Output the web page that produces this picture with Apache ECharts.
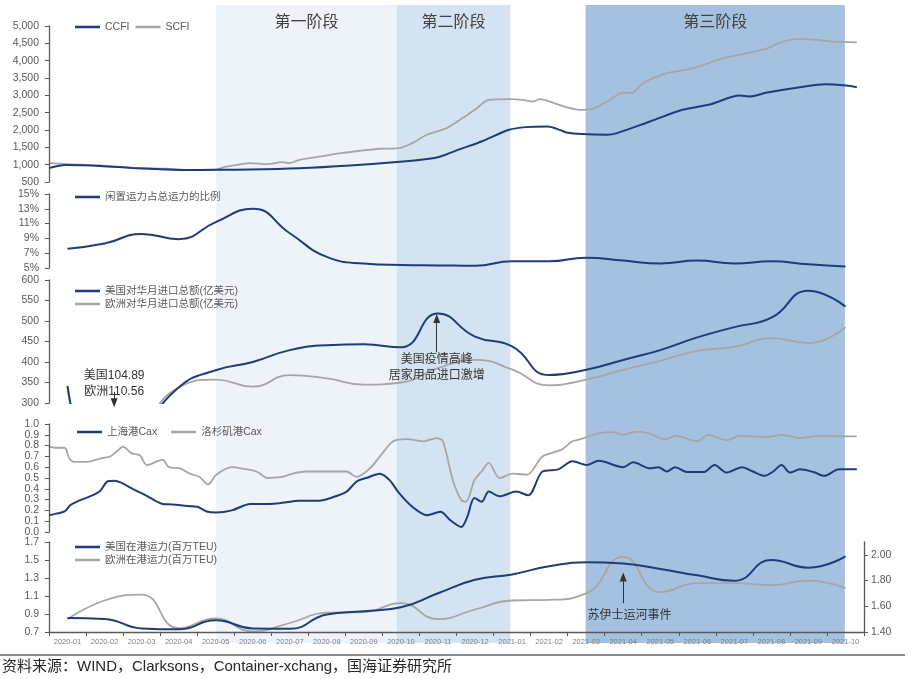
<!DOCTYPE html>
<html><head><meta charset="utf-8">
<script src="https://cdn.jsdelivr.net/npm/echarts@6/dist/echarts.min.js"></script>
<style>html,body{margin:0;padding:0;background:#fff}#c{width:910px;height:679px}</style>
</head><body><div id="c"></div>
<script>
// ---------------- data ----------------
const months = ['2020-01','2020-02','2020-03','2020-04','2020-05','2020-06','2020-07','2020-08','2020-09','2020-10','2020-11','2020-12',
  '2021-01','2021-02','2021-03','2021-04','2021-05','2021-06','2021-07','2021-08','2021-09','2021-10'];
const phaseNames = ['第一阶段','第二阶段','第三阶段'];
const phaseStart = ['2020-05-17','2020-10-13','2021-03-16'];
const phaseEnd = ['2020-10-13','2021-01-15','2021-10-16'];

const ccfi = [['2020-01-01',903],['2020-01-15',990],['2020-02-12',965],['2020-03-09',905],['2020-04-06',862],['2020-04-23',846],
  ['2020-05-17',852],['2020-06-14',858],['2020-07-24',895],['2020-09-05',975],['2020-10-13',1076],['2020-11-07',1162],['2020-11-18',1237],
  ['2020-12-04',1450],['2020-12-22',1669],['2021-01-14',2006],['2021-01-28',2083],['2021-02-14',2100],['2021-02-24',1990],['2021-02-28',1930],
  ['2021-03-13',1882],['2021-04-03',1862],['2021-04-11',1910],['2021-05-08',2245],['2021-06-04',2582],['2021-06-27',2745],['2021-07-21',2993],
  ['2021-07-29',2965],['2021-08-13',3080],['2021-09-09',3235],['2021-09-30',3321],['2021-10-17',3283],['2021-10-26',3235]];
const scfi = [['2020-01-01',1044],['2020-01-15',1016],['2020-02-12',977],['2020-03-09',900],['2020-04-06',883],['2020-04-23',851],
  ['2020-05-17',855],['2020-05-24',935],['2020-06-08',1025],['2020-06-14',1044],['2020-06-28',1015],['2020-07-10',1073],['2020-07-16',1044],
  ['2020-07-24',1133],['2020-08-10',1229],['2020-08-27',1325],['2020-09-13',1401],['2020-09-29',1459],['2020-10-15',1479],['2020-10-26',1622],
  ['2020-11-07',1862],['2020-11-23',2055],['2020-12-06',2343],['2020-12-18',2630],['2020-12-28',2870],['2021-01-14',2890],['2021-01-25',2870],
  ['2021-02-03',2822],['2021-02-08',2890],['2021-02-19',2775],['2021-02-28',2660],['2021-03-13',2582],['2021-03-21',2600],['2021-04-03',2822],
  ['2021-04-16',3080],['2021-04-23',3070],['2021-05-02',3350],['2021-05-22',3638],['2021-06-10',3762],['2021-06-21',3877],['2021-07-07',4069],
  ['2021-07-29',4230],['2021-08-13',4357],['2021-08-26',4549],['2021-09-09',4626],['2021-09-23',4597],['2021-10-06',4549],['2021-10-26',4530]];

const idleRatio = [7.6,8.3,9.6,8.9,11.2,13.0,9.7,6.5,5.6,5.4,5.35,5.3,5.9,5.9,6.4,6.0,5.6,6.0,5.6,5.9,5.5,5.2];

const usImports = [342,104.89,225,338,380,400,429,441,443,436,518,462,438,368,381,405,429,460,485,508,574,535];
const euImports = [338,110.56,230,338,357,340,368,360,345,350,385,405,382,343,357,381,403,427,437,458,446,485];

const shanghaiCax = [['2020-01-01',0.155],['2020-01-07',0.17],['2020-01-14',0.19],['2020-01-19',0.25],['2020-01-26',0.29],['2020-02-04',0.33],
  ['2020-02-12',0.38],['2020-02-18',0.47],['2020-02-23',0.475],['2020-02-28',0.46],['2020-03-09',0.40],['2020-03-20',0.34],['2020-04-03',0.26],
  ['2020-04-11',0.255],['2020-04-23',0.24],['2020-05-01',0.233],['2020-05-09',0.19],['2020-05-17',0.18],['2020-05-30',0.20],['2020-06-14',0.26],
  ['2020-06-28',0.26],['2020-07-10',0.27],['2020-07-24',0.29],['2020-08-10',0.29],['2020-08-21',0.32],['2020-09-02',0.374],['2020-09-10',0.467],
  ['2020-09-18',0.50],['2020-09-29',0.54],['2020-10-07',0.48],['2020-10-15',0.36],['2020-10-26',0.234],['2020-11-07',0.156],['2020-11-18',0.187],
  ['2020-11-26',0.109],['2020-12-05',0.047],['2020-12-10',0.14],['2020-12-16',0.315],['2020-12-22',0.28],['2020-12-28',0.374],['2021-01-06',0.33],
  ['2021-01-20',0.374],['2021-01-30',0.34],['2021-02-10',0.56],['2021-02-22',0.58],['2021-03-05',0.654],['2021-03-17',0.62],['2021-03-27',0.66],
  ['2021-04-16',0.60],['2021-04-24',0.645],['2021-05-08',0.59],['2021-05-15',0.60],['2021-05-22',0.56],['2021-05-29',0.60],['2021-06-08',0.555],
  ['2021-06-21',0.555],['2021-06-30',0.62],['2021-07-10',0.55],['2021-07-23',0.60],['2021-08-01',0.56],['2021-08-11',0.52],['2021-08-18',0.56],
  ['2021-08-25',0.62],['2021-09-01',0.55],['2021-09-09',0.58],['2021-09-20',0.555],['2021-09-29',0.52],['2021-10-11',0.58],['2021-10-26',0.58]];
const laCax = [['2020-01-01',0.79],['2020-01-06',0.78],['2020-01-14',0.78],['2020-01-18',0.68],['2020-01-22',0.65],['2020-02-02',0.65],
  ['2020-02-12',0.68],['2020-02-20',0.70],['2020-02-25',0.745],['2020-03-01',0.79],['2020-03-08',0.73],['2020-03-15',0.71],['2020-03-21',0.62],
  ['2020-04-03',0.67],['2020-04-08',0.60],['2020-04-17',0.59],['2020-04-25',0.54],['2020-05-03',0.51],['2020-05-10',0.44],['2020-05-17',0.53],
  ['2020-05-30',0.60],['2020-06-06',0.59],['2020-06-19',0.56],['2020-06-28',0.50],['2020-07-10',0.51],['2020-07-19',0.54],['2020-07-30',0.56],
  ['2020-09-02',0.56],['2020-09-10',0.51],['2020-09-21',0.59],['2020-09-29',0.70],['2020-10-10',0.84],['2020-10-21',0.86],['2020-11-04',0.84],
  ['2020-11-15',0.87],['2020-11-20',0.84],['2020-11-28',0.48],['2020-12-05',0.296],['2020-12-09',0.28],['2020-12-16',0.48],['2020-12-22',0.56],
  ['2020-12-28',0.64],['2021-01-06',0.50],['2021-01-17',0.54],['2021-01-29',0.53],['2021-02-10',0.70],['2021-02-24',0.76],['2021-03-05',0.84],
  ['2021-03-11',0.857],['2021-03-27',0.913],['2021-04-08',0.925],['2021-04-16',0.90],['2021-04-27',0.93],['2021-05-08',0.91],['2021-05-20',0.857],
  ['2021-05-30',0.89],['2021-06-16',0.84],['2021-06-25',0.90],['2021-07-10',0.85],['2021-07-21',0.89],['2021-08-13',0.88],['2021-08-26',0.90],
  ['2021-09-09',0.87],['2021-09-25',0.89],['2021-10-17',0.885],['2021-10-26',0.885]];

const usPort = [0.855,0.845,0.74,0.73,0.83,0.74,0.735,0.895,0.93,0.975,1.13,1.28,1.34,1.43,1.475,1.46,1.40,1.33,1.27,1.50,1.415,1.54];
const euPort = [1.50,1.645,1.69,1.43,1.505,1.405,1.47,1.55,1.555,1.625,1.50,1.575,1.645,1.65,1.70,1.985,1.71,1.78,1.78,1.765,1.80,1.74];

// annotation anchors (in data units)
const noteFeb = {date:'2020-02-23', arrowFrom:327, arrowTo:300.5, text:'美国104.89\n欧洲110.56', textAt:346};
const notePeak = {date:'2020-11-15', arrowFrom:424, arrowTo:506, text:'美国疫情高峰\n居家用品进口激增', textAt:386};
const noteSuez = {date:'2021-04-16', arrowFrom:1.02, arrowTo:1.31, textDate:'2021-04-21', text:'苏伊士运河事件', textAt:0.885};

// ---------------- helpers ----------------
function monthPos(d){const p=d.split('-').map(Number);const dim=new Date(p[0],p[1],0).getDate();return (p[0]-2020)*12+(p[1]-1)+(p[2]-1)/dim;}
const dated = arr => arr.map(r => [monthPos(r[0]), r[1]]);
const monthly = arr => arr.map((v,i) => [i+0.5, v]);

const DARK='#1f3c78', GRAY='#a6a6a6', AX='#595959';
const phaseColors=['#edf3f9','#d3e3f1','#a4c2df'];
const FONT='"Liberation Sans","Noto Sans CJK SC",sans-serif';
const CJK='"Noto Sans CJK SC",sans-serif';

const L=49, R=46;
const grids=[{top:5,height:638},{top:26,height:156},{top:194,height:74},{top:280,height:123},{top:424,height:108},{top:542,height:90}]
  .map(g=>Object.assign({left:L,right:R},g));

const xAxes = grids.map((g,i)=>({type:'value',gridIndex:i,min:0,max:22,show:false}));
xAxes.push({type:'category',gridIndex:5,data:months,position:'bottom',boundaryGap:true,z:5,
  axisLine:{show:true,lineStyle:{color:AX,width:1.3}},axisTick:{show:true,length:4,lineStyle:{color:AX}},
  axisLabel:{color:'#7f7f7f',fontSize:7.5,margin:6,interval:0,fontFamily:FONT}});

function yax(grid,opt){
  return Object.assign({type:'value',gridIndex:grid,z:5,splitLine:{show:false},
    axisLine:{show:true,lineStyle:{color:AX,width:1.3}},axisTick:{show:true,length:4,lineStyle:{color:AX}},
    axisLabel:{color:AX,fontSize:10.5,margin:10,fontFamily:FONT}},opt);
}
const yAxes=[
  {type:'value',gridIndex:0,min:0,max:1,show:false},
  yax(1,{min:500,max:5000,interval:500,axisLabel:{color:AX,fontSize:10.5,margin:10,fontFamily:FONT,formatter:v=>v.toLocaleString('en-US')}}),
  yax(2,{min:5,max:15,axisTick:{show:true,length:4,lineStyle:{color:AX},customValues:[5,7,9,11,13,15]},
    axisLabel:{color:AX,fontSize:10.5,margin:10,fontFamily:FONT,customValues:[5,7,9,11,13,15],formatter:'{value}%'}}),
  yax(3,{min:300,max:600,interval:50}),
  yax(4,{min:0,max:1,interval:0.1,axisLabel:{color:AX,fontSize:10.5,margin:10,fontFamily:FONT,formatter:v=>v.toFixed(1)}}),
  yax(5,{min:0.7,max:1.7,axisTick:{show:true,length:4,lineStyle:{color:AX},customValues:[0.7,0.9,1.1,1.3,1.5,1.7]},
    axisLabel:{color:AX,fontSize:10.5,margin:10,fontFamily:FONT,customValues:[0.7,0.9,1.1,1.3,1.5,1.7],formatter:v=>v.toFixed(1)}}),
  yax(5,{min:1.4,max:2.1,position:'right',axisTick:{show:true,length:4,lineStyle:{color:AX},customValues:[1.4,1.6,1.8,2.0]},
    axisLabel:{color:AX,fontSize:10.5,margin:7,fontFamily:FONT,customValues:[1.4,1.6,1.8,2.0],formatter:v=>v.toFixed(2)}})
];

function line(name,xi,yi,data,color,smooth,extra){
  return Object.assign({name,type:'line',xAxisIndex:xi,yAxisIndex:yi,data,showSymbol:false,symbol:'none',smooth,z:4,
    lineStyle:{color,width:color===DARK?2:1.8},itemStyle:{color},clip:true},extra||{});
}
const arrowLine=(x,a,b)=>({silent:true,symbol:['none','triangle'],symbolSize:[7,9],lineStyle:{color:'#333',type:'solid',width:1},
  label:{show:false},emphasis:{disabled:true},data:[[{coord:[x,a]},{coord:[x,b]}]]});
const noteText=(x,y,t)=>({silent:true,symbol:'circle',symbolSize:0,data:[{coord:[x,y],value:0,
  label:{show:true,position:'inside',formatter:t,color:'#333',fontSize:12,lineHeight:16,fontFamily:FONT}}]});

const series=[
  {type:'line',xAxisIndex:0,yAxisIndex:0,data:[],z:1,silent:true,
    markArea:{silent:true,label:{show:true,position:'insideTop',distance:8,fontSize:16,color:'#404040',fontFamily:CJK},
      data:phaseNames.map((n,i)=>[{name:n,xAxis:monthPos(phaseStart[i]),itemStyle:{color:phaseColors[i]}},{xAxis:monthPos(phaseEnd[i])}])}},
  line('SCFI',1,1,dated(scfi),GRAY,0.3),
  line('CCFI',1,1,dated(ccfi),DARK,0.3),
  line('闲置运力占总运力的比例',2,2,monthly(idleRatio),DARK,0.5),
  line('欧洲对华月进口总额(亿美元)',3,3,monthly(euImports),GRAY,0.5,{markPoint:noteText(monthPos(noteFeb.date),noteFeb.textAt,noteFeb.text)}),
  line('美国对华月进口总额(亿美元)',3,3,monthly(usImports),DARK,0.5,{
    markLine:{silent:true,symbol:['none','triangle'],symbolSize:[7,9],lineStyle:{color:'#333',type:'solid',width:1},label:{show:false},
      data:[[{coord:[monthPos(noteFeb.date),noteFeb.arrowFrom]},{coord:[monthPos(noteFeb.date),noteFeb.arrowTo]}],
            [{coord:[monthPos(notePeak.date),notePeak.arrowFrom]},{coord:[monthPos(notePeak.date),notePeak.arrowTo]}]]},
    markPoint:noteText(monthPos(notePeak.date),notePeak.textAt,notePeak.text)}),
  line('洛杉矶港Cax',4,4,dated(laCax),GRAY,0.3),
  line('上海港Cax',4,4,dated(shanghaiCax),DARK,0.3),
  line('欧洲在港运力(百万TEU)',5,6,monthly(euPort),GRAY,0.5),
  line('美国在港运力(百万TEU)',5,5,monthly(usPort),DARK,0.5,{
    markLine:arrowLine(monthPos(noteSuez.date),noteSuez.arrowFrom,noteSuez.arrowTo),
    markPoint:noteText(monthPos(noteSuez.textDate),noteSuez.textAt,noteSuez.text)})
];

const lg=(top,left,data,orient,gap)=>({top,left,data,orient:orient||'horizontal',itemGap:gap==null?6:gap,icon:'rect',itemWidth:25,itemHeight:2.5,
  selectedMode:false,textStyle:{fontSize:10.5,color:'#595959',fontFamily:FONT,lineHeight:12}});
const legends=[
  lg(16,70,['CCFI','SCFI'],'horizontal',6),
  lg(186,70,['闲置运力占总运力的比例']),
  lg(280,70,['美国对华月进口总额(亿美元)','欧洲对华月进口总额(亿美元)'],'vertical',1),
  lg(421,72,['上海港Cax','洛杉矶港Cax'],'horizontal',14),
  lg(536,70,['美国在港运力(百万TEU)','欧洲在港运力(百万TEU)'],'vertical',1)
];

const chart=echarts.init(document.getElementById('c'),null,{renderer:'canvas'});
chart.setOption({
  animation:false,backgroundColor:'#fff',
  grid:grids,xAxis:xAxes,yAxis:yAxes,legend:legends,series,
  graphic:[
    {type:'line',shape:{x1:0,y1:655,x2:905,y2:655},style:{stroke:'#8c8c8c',lineWidth:2},silent:true},
    {type:'text',left:2,top:659,style:{text:'资料来源：WIND，Clarksons，Container-xchang，国海证券研究所',fontSize:15,fill:'#262626',fontFamily:FONT},silent:true}
  ]
});
</script></body></html>
